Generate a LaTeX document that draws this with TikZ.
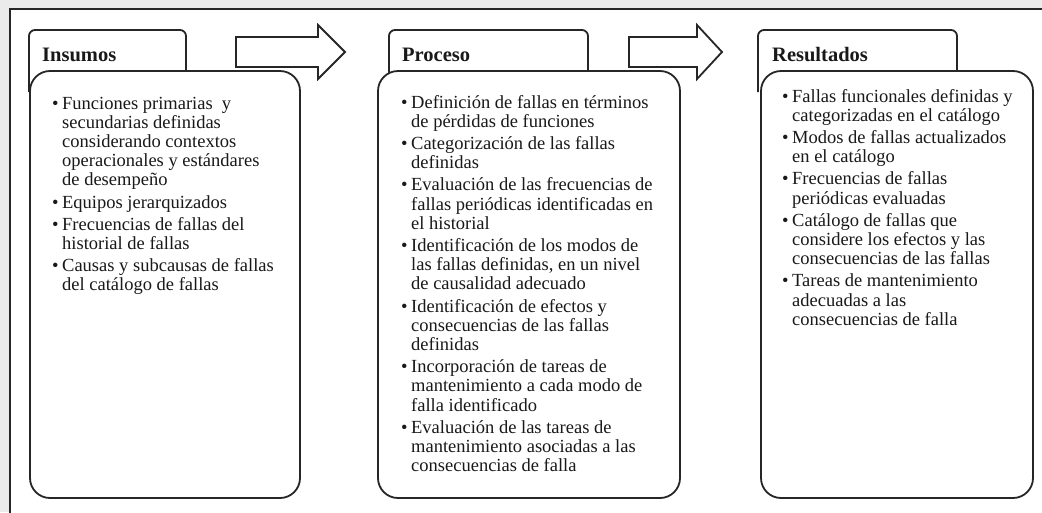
\documentclass[tikz,border=0pt]{standalone}
\usepackage{fontspec}
\setmainfont{Liberation Serif}
\newcommand{\bfnt}{\fontsize{18.5}{19.2}\selectfont}
\newcommand{\ig}{\\[3pt]}
\begin{document}
\begin{tikzpicture}[x=1pt,y=-1pt,
  outline/.style={draw=black!85, line width=1.8pt},
  tabbox/.style={outline, fill=white, rounded corners=6pt},
  mainbox/.style={outline, fill=white, rounded corners=20pt, inner sep=0pt, outer sep=0pt, anchor=north west, minimum height=427pt},
  head/.style={anchor=base west, inner sep=0pt, font=\fontsize{20.5}{22}\selectfont\bfseries, text=black!90},
  body/.style={anchor=base west, inner sep=0pt, font=\bfnt, text=black!90},
  blockarrow/.style={outline, fill=white, line join=miter}
]
\useasboundingbox (0,0) rectangle (1042,512);
\clip (0,0) rectangle (1042,512);
\fill[black!8] (0,0) rectangle (1042,512);
\draw[outline, fill=white] (10,9) rectangle (1080,540);

% tabs
\path[tabbox] (29,92) -- (29,30) -- (186,30) -- (186,92);
\path[tabbox] (389,92) -- (389,30) -- (588,30) -- (588,92);
\path[tabbox] (758,92) -- (758,30) -- (957,30) -- (957,92);

% main boxes
\node[mainbox, minimum width=270pt] (insumos) at (30,71) {};
\node[mainbox, minimum width=302pt] (proceso) at (378,71) {};
\node[mainbox, minimum width=272pt] (resultados) at (761,71) {};

% headers
\node[head] (h1) at (42,61) {Insumos};
\node[head] (h2) at (402,61) {Proceso};
\node[head] (h3) at (772,61) {Resultados};

% block arrows
\draw[blockarrow] (236,37) -- (318,37) -- (318,25) -- (345,52) -- (318,79) -- (318,67) -- (236,67) -- cycle;
\draw[blockarrow] (629,37) -- (697,37) -- (697,25) -- (722,52) -- (697,79) -- (697,67) -- (629,67) -- cycle;

% texts
\node[body] (t1) at (52,109) {\begin{tabular}[t]{@{}p{10pt}@{}l@{}}
\textbullet & Funciones primarias~ y\\
 & secundarias definidas\\
 & considerando contextos\\
 & operacionales y estándares\\
 & de desempeño\ig
\textbullet & Equipos jerarquizados\ig
\textbullet & Frecuencias de fallas del\\
 & historial de fallas\ig
\textbullet & Causas y subcausas de fallas\\
 & del catálogo de fallas
\end{tabular}};

\node[body] (t2) at (401,108) {\begin{tabular}[t]{@{}p{10pt}@{}l@{}}
\textbullet & Definición de fallas en términos\\
 & de pérdidas de funciones\ig
\textbullet & Categorización de las fallas\\
 & definidas\ig
\textbullet & Evaluación de las frecuencias de\\
 & fallas periódicas identificadas en\\
 & el historial\ig
\textbullet & Identificación de los modos de\\
 & las fallas definidas, en un nivel\\
 & de causalidad adecuado\ig
\textbullet & Identificación de efectos y\\
 & consecuencias de las fallas\\
 & definidas\ig
\textbullet & Incorporación de tareas de\\
 & mantenimiento a cada modo de\\
 & falla identificado\ig
\textbullet & Evaluación de las tareas de\\
 & mantenimiento asociadas a las\\
 & consecuencias de falla
\end{tabular}};

\node[body] (t3) at (782,102) {\begin{tabular}[t]{@{}p{10pt}@{}l@{}}
\textbullet & Fallas funcionales definidas y\\
 & categorizadas en el catálogo\ig
\textbullet & Modos de fallas actualizados\\
 & en el catálogo\ig
\textbullet & Frecuencias de fallas\\
 & periódicas evaluadas\ig
\textbullet & Catálogo de fallas que\\
 & considere los efectos y las\\
 & consecuencias de las fallas\ig
\textbullet & Tareas de mantenimiento\\
 & adecuadas a las\\
 & consecuencias de falla
\end{tabular}};
\end{tikzpicture}
\end{document}
